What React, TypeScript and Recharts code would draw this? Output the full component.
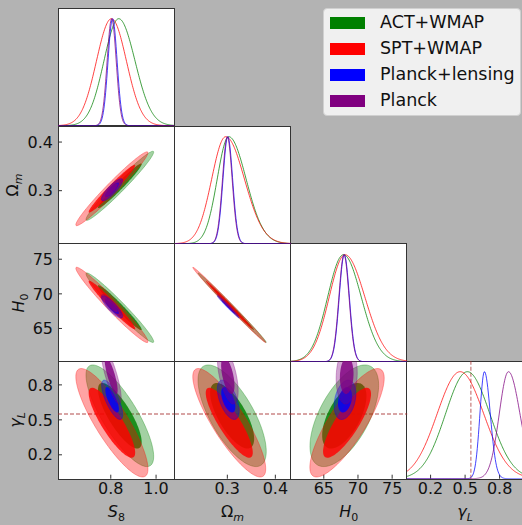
import React from "react";
import { ComposedChart, Scatter, XAxis, YAxis, ReferenceLine } from "recharts";

const W = 116.2;
const H = 117.7;
const COL_X = [58.3, 174.5, 290.7, 406.9];
const ROW_Y = [8.3, 126, 243.7, 361.4];
const FRAME = "#333333";
const FONT = "DejaVu Sans";
const BG = "#b3b3b3";

const SERIES = ["ACT+WMAP", "SPT+WMAP", "Planck+lensing", "Planck"];
const COLORS = ["#008000", "#ff0000", "#0000ff", "#800080"];

// parameter order: S8, Omega_m, H0, gamma_L
const DOMAINS = [
  [0.567, 1.08],
  [0.191, 0.433],
  [60.2, 77.2],
  [-0.005, 1.005],
];
const TICKS = [
  [0.8, 1.0],
  [0.3, 0.4],
  [65, 70, 75],
  [0.2, 0.5, 0.8],
];
const TICK_DIGITS = [1, 1, 0, 1];

// 1D marginals: [peak, width left, width right]
const ACT_1D = [[0.835, 0.065, 0.072], [0.303, 0.024, 0.036], [67.87, 2.3, 2.6], [0.52, 0.19, 0.195]];
const SPT_1D = [[0.803, 0.066, 0.066], [0.2965, 0.029, 0.039], [68.1, 2.3, 2.9], [0.457, 0.2, 0.205]];
const LENS_1D = [[0.808, 0.02, 0.02], [0.301, 0.01, 0.01], [68.0, 0.74, 0.74], [0.668, 0.039, 0.051]];
const PLANCK_1D = [[0.804, 0.02, 0.02], [0.3, 0.01, 0.01], [67.95, 0.74, 0.74], [0.877, 0.08, 0.1]];

// 2D contour centres / widths
const ACT_MEAN = [0.84, 0.31, 68.0, 0.535];
const ACT_SIGMA = [0.061, 0.029, 2.05, 0.178];
const SPT_MEAN = [0.805, 0.304, 68.4, 0.475];
const SPT_SIGMA = [0.065, 0.031, 2.22, 0.19];
const LENS_MEAN = [0.806, 0.302, 68.1, 0.672];
const LENS_SIGMA = [0.019, 0.0093, 0.65, 0.069];
const PLANCK_MEAN = [0.802, 0.301, 68.35, 0.88];
const PLANCK_SIGMA = [0.018, 0.0088, 0.63, 0.1];

// correlations: S8-Om, S8-H0, Om-H0, S8-g, Om-g, H0-g
const ACT_RHO = [0.975, -0.975, -0.996, -0.8, -0.7, 0.6];
const SPT_RHO = [0.975, -0.975, -0.996, -0.85, -0.85, 0.82];
const LENS_RHO = [0.85, -0.85, -0.99, -0.75, -0.55, 0.3];
const PLANCK_RHO = [0.85, -0.85, -0.99, -0.8, -0.55, 0.1];

const GAMMA_FID = 0.55;

const MARG = [ACT_1D, SPT_1D, LENS_1D, PLANCK_1D];
const MEANS = [ACT_MEAN, SPT_MEAN, LENS_MEAN, PLANCK_MEAN];
const SIGMAS = [ACT_SIGMA, SPT_SIGMA, LENS_SIGMA, PLANCK_SIGMA];
const RHOS = [ACT_RHO, SPT_RHO, LENS_RHO, PLANCK_RHO];

const K68 = 1.58;
const K95 = 2.45;

function pairIndex(row: number, col: number): number {
  const key = `${row}${col}`;
  return { "10": 0, "20": 1, "21": 2, "30": 3, "31": 4, "32": 5 }[key] as number;
}

function curve1D(p: number, s: number) {
  const [m, sl, sr] = MARG[s][p];
  const [lo, hi] = DOMAINS[p];
  const pts = [];
  const n = 200;
  for (let i = 0; i <= n; i++) {
    const x = lo + ((hi - lo) * i) / n;
    const sg = x < m ? sl : sr;
    pts.push({ x, y: Math.exp(-0.5 * ((x - m) / sg) ** 2) });
  }
  return pts;
}

function ellipse(s: number, px: number, py: number, rho: number, k: number) {
  const mx = MEANS[s][px];
  const my = MEANS[s][py];
  const sx = SIGMAS[s][px];
  const sy = SIGMAS[s][py];
  const q = Math.sqrt(1 - rho * rho);
  const pts = [];
  const n = 120;
  for (let i = 0; i <= n; i++) {
    const t = (2 * Math.PI * i) / n;
    pts.push({
      x: mx + k * sx * Math.cos(t),
      y: my + k * sy * (rho * Math.cos(t) + q * Math.sin(t)),
    });
  }
  return pts;
}

const tickStyle = { fontSize: 16, fill: "#111", fontFamily: FONT };
const noShape = () => <g />;

function fmt(p: number) {
  return (v: number) => v.toFixed(TICK_DIGITS[p]);
}

function Panel({ row, col }: { row: number; col: number }) {
  const diag = row === col;
  const bottom = row === 3;
  const left = col === 0;
  const HB = bottom ? 40 : 1;
  const WL = left ? 60 : 1;
  const width = W + WL + 1;
  const height = H + HB + 1;

  const xAxis = (
    <XAxis
      xAxisId="b"
      type="number"
      dataKey="x"
      domain={DOMAINS[col] as [number, number]}
      allowDataOverflow
      ticks={TICKS[col]}
      tickFormatter={fmt(col)}
      tick={bottom ? tickStyle : false}
      tickSize={-4}
      tickMargin={8}
      height={HB}
      axisLine={false}
      tickLine={{ stroke: FRAME }}
      interval={0}
    />
  );

  if (diag) {
    return (
      <div style={{ position: "absolute", left: COL_X[col] - WL, top: ROW_Y[row] - 1 }}>
        <ComposedChart width={width} height={height} margin={{ top: 1, right: 1, bottom: 0, left: WL }}>
          {xAxis}
          <YAxis yAxisId="l" type="number" dataKey="y" domain={[0, 1.1]} allowDataOverflow hide />
          {SERIES.map((name, s) => (
            <Scatter
              key={name}
              name={name}
              xAxisId="b"
              yAxisId="l"
              data={curve1D(col, s)}
              shape={noShape}
              line={{ stroke: COLORS[s], strokeWidth: 1, strokeOpacity: 0.75, fill: "none" }}
              isAnimationActive={false}
            />
          ))}
          {col === 3 && (
            <ReferenceLine
              xAxisId="b"
              yAxisId="l"
              x={GAMMA_FID}
              stroke="#a52a2a"
              strokeOpacity={0.5}
              strokeWidth={1.5}
              strokeDasharray="4 2"
            />
          )}
        </ComposedChart>
      </div>
    );
  }

  const pi = pairIndex(row, col);
  return (
    <div style={{ position: "absolute", left: COL_X[col] - WL, top: ROW_Y[row] - 1 }}>
      <ComposedChart width={width} height={height} margin={{ top: 0, right: 0, bottom: 0, left: 0 }}>
        {xAxis}
        <XAxis
          xAxisId="t"
          orientation="top"
          type="number"
          domain={DOMAINS[col] as [number, number]}
          allowDataOverflow
          ticks={TICKS[col]}
          tick={false}
          tickSize={-4}
          height={1}
          axisLine={false}
          tickLine={{ stroke: FRAME }}
          interval={0}
        />
        <YAxis
          yAxisId="l"
          type="number"
          dataKey="y"
          domain={DOMAINS[row] as [number, number]}
          allowDataOverflow
          ticks={TICKS[row]}
          tickFormatter={fmt(row)}
          tick={left ? tickStyle : false}
          tickSize={-4}
          tickMargin={9}
          width={WL}
          axisLine={false}
          tickLine={{ stroke: FRAME }}
          interval={0}
        />
        <YAxis
          yAxisId="r"
          orientation="right"
          type="number"
          domain={DOMAINS[row] as [number, number]}
          allowDataOverflow
          ticks={TICKS[row]}
          tick={false}
          tickSize={-4}
          width={1}
          axisLine={false}
          tickLine={{ stroke: FRAME }}
          interval={0}
        />
        {SERIES.map((name, s) => [
          <Scatter
            key={`${name}-95`}
            name={name}
            xAxisId="b"
            yAxisId="l"
            data={ellipse(s, col, row, RHOS[s][pi], K95)}
            shape={noShape}
            line={{
              fill: COLORS[s],
              fillOpacity: 0.36,
              stroke: COLORS[s],
              strokeOpacity: 0.4,
              strokeWidth: 0.8,
            }}
            isAnimationActive={false}
          />,
          <Scatter
            key={`${name}-68`}
            name={name}
            xAxisId="b"
            yAxisId="l"
            data={ellipse(s, col, row, RHOS[s][pi], K68)}
            shape={noShape}
            line={{ fill: COLORS[s], fillOpacity: 0.82, stroke: "none" }}
            isAnimationActive={false}
          />,
        ])}
        {row === 3 && (
          <ReferenceLine
            xAxisId="b"
            yAxisId="l"
            y={GAMMA_FID}
            stroke="#a52a2a"
            strokeOpacity={0.85}
            strokeWidth={1.2}
            strokeDasharray="4 2"
          />
        )}
      </ComposedChart>
    </div>
  );
}

const PANELS: [number, number][] = [];
for (let r = 0; r < 4; r++) for (let c = 0; c <= r; c++) PANELS.push([r, c]);

const LEGEND_Y = [23.3, 48.8, 74.5, 100.5];

export default function App() {
  const labelBase: React.CSSProperties = {
    position: "absolute",
    fontFamily: FONT,
    fontSize: 16,
    color: "#111",
    whiteSpace: "nowrap",
    lineHeight: 1,
  };
  const sub: React.CSSProperties = { fontSize: 11, verticalAlign: "-4px" };
  return (
    <div
      style={{
        position: "absolute",
        left: 0,
        top: 0,
        width: 522,
        height: 525,
        background: BG,
        overflow: "hidden",
      }}
    >
      {PANELS.map(([r, c]) => (
        <div
          key={`bg${r}${c}`}
          style={{
            position: "absolute",
            left: COL_X[c] - 0.5,
            top: ROW_Y[r] - 0.5,
            width: W + 1,
            height: H + 1,
            boxSizing: "border-box",
            background: "#fff",
            border: `1px solid ${FRAME}`,
          }}
        />
      ))}
      {PANELS.map(([r, c]) => (
        <Panel key={`p${r}${c}`} row={r} col={c} />
      ))}

      {/* x labels */}
      <div style={{ ...labelBase, left: COL_X[0] + W / 2, top: 513, transform: "translate(-50%,-50%)" }}>
        <i>S</i>
        <span style={sub}>8</span>
      </div>
      <div style={{ ...labelBase, left: COL_X[1] + W / 2, top: 513, transform: "translate(-50%,-50%)" }}>
        Ω<i style={sub}>m</i>
      </div>
      <div style={{ ...labelBase, left: COL_X[2] + W / 2, top: 513, transform: "translate(-50%,-50%)" }}>
        <i>H</i>
        <span style={sub}>0</span>
      </div>
      <div style={{ ...labelBase, left: COL_X[3] + W / 2, top: 513, transform: "translate(-50%,-50%)" }}>
        <i>γ</i>
        <i style={sub}>L</i>
      </div>

      {/* y labels */}
      <div style={{ ...labelBase, left: 14, top: ROW_Y[1] + H / 2, transform: "translate(-50%,-50%) rotate(-90deg)" }}>
        Ω<i style={sub}>m</i>
      </div>
      <div style={{ ...labelBase, left: 20, top: ROW_Y[2] + H / 2, transform: "translate(-50%,-50%) rotate(-90deg)" }}>
        <i>H</i>
        <span style={sub}>0</span>
      </div>
      <div style={{ ...labelBase, left: 17, top: ROW_Y[3] + H / 2, transform: "translate(-50%,-50%) rotate(-90deg)" }}>
        <i>γ</i>
        <i style={sub}>L</i>
      </div>

      {/* legend */}
      <div
        style={{
          position: "absolute",
          left: 323,
          top: 8.3,
          width: 198,
          height: 108,
          boxSizing: "border-box",
          background: "#f0f0f0",
          border: "1px solid #d0d0d0",
          borderRadius: 4,
        }}
      />
      {SERIES.map((name, s) => (
        <React.Fragment key={name}>
          <div
            style={{
              position: "absolute",
              left: 330,
              top: LEGEND_Y[s] - 6,
              width: 35,
              height: 12,
              background: COLORS[s],
            }}
          />
          <div
            style={{
              ...labelBase,
              fontSize: 17.5,
              left: 380,
              top: LEGEND_Y[s],
              transform: "translateY(-50%)",
            }}
          >
            {name}
          </div>
        </React.Fragment>
      ))}
    </div>
  );
}
